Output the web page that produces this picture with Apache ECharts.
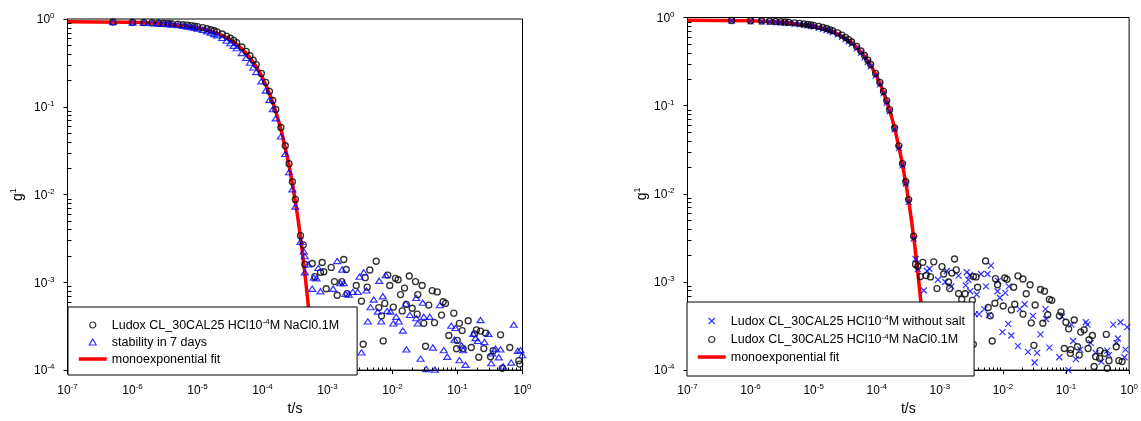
<!DOCTYPE html>
<html><head><meta charset="utf-8">
<script src="https://cdn.jsdelivr.net/npm/echarts@6/dist/echarts.min.js"></script>
<style>html,body{margin:0;padding:0;background:#fff}#c{width:1141px;height:421px}</style>
</head><body><div id="c"></div>
<script>
// ---------- data ----------
const decayTimes = [5e-7,1e-6,1.5e-6,2e-6,2.5e-6,3e-6,3.5e-6,4e-6,5e-6,6e-6,7e-6,8e-6,9e-6,1e-5,1.2e-5,1.4e-5,1.6e-5,1.8e-5,2e-5,2.4e-5,2.8e-5,3.2e-5,3.6e-5,4e-5,4.8e-5,5.6e-5,6.4e-5,7.2e-5,8e-5,9.6e-5,1.12e-4,1.28e-4,1.44e-4,1.6e-4,1.92e-4,2.24e-4,2.56e-4,2.88e-4,3.2e-4,3.84e-4,4.48e-4];
const leftNaClDecay = [0.925,0.918,0.912,0.906,0.900,0.894,0.888,0.883,0.872,0.861,0.850,0.839,0.828,0.818,0.796,0.775,0.754,0.734,0.714,0.675,0.638,0.603,0.570,0.538,0.480,0.428,0.381,0.339,0.302,0.240,0.190,0.150,0.118,0.093,0.058,0.036,0.0225,0.0140,0.0088,0.0034,0.0016];
const leftWeekDecay = [0.920,0.912,0.905,0.897,0.889,0.881,0.873,0.866,0.851,0.836,0.821,0.806,0.792,0.778,0.750,0.724,0.699,0.675,0.652,0.608,0.567,0.530,0.496,0.465,0.409,0.360,0.318,0.281,0.249,0.195,0.153,0.120,0.094,0.074,0.046,0.029,0.018,0.0115,0.0073,0.0029,0.0013];
const rightNaClDecay = [0.925,0.918,0.912,0.906,0.900,0.894,0.888,0.883,0.870,0.858,0.846,0.835,0.824,0.814,0.792,0.771,0.750,0.729,0.709,0.668,0.630,0.594,0.560,0.527,0.469,0.417,0.371,0.329,0.293,0.232,0.183,0.145,0.114,0.090,0.056,0.035,0.022,0.0137,0.0086,0.0033,0.0015];
const rightNoSaltDecay = [0.915,0.905,0.898,0.891,0.884,0.877,0.870,0.864,0.850,0.837,0.824,0.812,0.800,0.789,0.765,0.743,0.722,0.701,0.680,0.640,0.603,0.568,0.535,0.503,0.447,0.397,0.353,0.313,0.279,0.220,0.174,0.138,0.108,0.086,0.054,0.033,0.021,0.0131,0.0081,0.0031,0.0014];

const leftNaClNoise = [[4.23e-4,2.67e-3],[5.82e-4,1.64e-3],[8.28e-4,1.68e-3],[1.78e-3,1.82e-3],[1.14e-3,1.48e-3],[7.8e-4,1.30e-3],[8.77e-4,1.32e-3],[6.38e-4,1.16e-3],[1.94e-3,1.40e-3],[1.28e-3,1.02e-3],[1.66e-3,1.02e-3],[9.55e-4,8.45e-4],[1.41e-3,7.12e-4],[2.77e-3,9.2e-4],[2.01e-3,7.44e-4],[3.33e-3,6.1e-4],[5.61e-3,1.74e-3],[4.48e-3,1.38e-3],[3.80e-3,1.13e-3],[4.08e-3,8.8e-4],[8.47e-3,1.21e-3],[1.11e-2,1.11e-3],[1.22e-2,1.07e-3],[9.08e-3,9.2e-4],[1.53e-2,8.6e-4],[1.33e-2,7.25e-4],[1.81e-2,1.18e-3],[2.26e-2,1.02e-3],[2.86e-2,9.2e-4],[2.45e-2,7.25e-4],[6.15e-3,5.15e-4],[7.6e-3,5.75e-4],[1.03e-2,5.22e-4],[6.78e-3,4.15e-4],[1.63e-2,5.6e-4],[1.41e-2,4.72e-4],[2.01e-2,5.06e-4],[2.40e-2,4.34e-4],[3.61e-2,5.5e-4],[4.08e-2,8.04e-4],[4.88e-2,7.77e-4],[6.03e-2,6.01e-4],[6.54e-2,5.75e-4],[5.68e-2,4.23e-4],[3.03e-2,3.41e-4],[4.43e-2,3.47e-4],[7.19e-3,2.15e-4],[3.54e-3,1.97e-4],[3.22e-2,1.87e-4],[8.77e-2,4.45e-4],[0.107,3.41e-4],[0.118,2.82e-4],[0.146,3.65e-4],[7.35e-2,2.48e-4],[9.9e-2,2.18e-4],[0.122,1.76e-4],[9.66e-2,1.75e-4],[0.163,1.81e-4],[0.196,2.87e-4],[0.226,2.78e-4],[0.183,2.59e-4],[0.270,2.64e-4],[0.254,1.76e-4],[0.213,1.40e-4],[0.459,2.52e-4],[0.354,1.66e-4],[0.322,1.42e-4],[0.638,1.81e-4],[0.488,1.05e-4],[0.877,1.28e-4],[0.908,1.17e-4]];
const leftWeekNoise = [[4.32e-4,2.25e-3],[4.48e-4,1.99e-3],[5.05e-4,1.60e-3],[6.15e-4,1.13e-3],[6.77e-4,1.11e-3],[7.2e-4,1.46e-3],[5.82e-4,8.45e-4],[1.41e-3,1.75e-3],[1.68e-3,1.40e-3],[1.58e-3,9.8e-4],[1.78e-3,9.8e-4],[1.22e-3,8.45e-4],[7.8e-4,7.9e-4],[1.89e-3,7.38e-4],[2.13e-3,7.25e-4],[2.45e-3,7.77e-4],[2.92e-3,7.77e-4],[3.1e-3,1.16e-3],[3.61e-3,1.30e-3],[3.98e-3,8.1e-4],[6.24e-3,1.04e-3],[7.88e-3,1.21e-3],[5.15e-3,6.37e-4],[4.59e-3,5.22e-4],[7.1e-3,6.94e-4],[5.94e-3,4.65e-4],[6.7e-3,3.59e-4],[8.28e-3,4.72e-4],[9.31e-3,4.65e-4],[4.17e-3,3.59e-4],[1.14e-2,4.05e-4],[1.03e-2,3.41e-4],[1.25e-2,3.59e-4],[1.44e-2,2.82e-4],[1.60e-2,5.71e-4],[1.85e-2,4.26e-4],[2.32e-2,3.91e-4],[2.45e-2,3.41e-4],[3.03e-2,4.05e-4],[3.75e-2,4.05e-4],[2.92e-2,5.86e-4],[2.32e-2,6.65e-4],[1.64e-2,1.72e-4],[2.70e-2,1.35e-4],[4.17e-2,1.81e-4],[3.30e-2,1.03e-4],[4.48e-2,1.01e-4],[5.35e-2,5.5e-4],[6.15e-2,1.69e-4],[6.95e-2,1.42e-4],[8.0e-2,3.21e-4],[9.3e-2,3.02e-4],[9.0e-2,2.22e-4],[0.115,1.92e-4],[0.122,1.69e-4],[0.107,1.30e-4],[0.133,1.15e-4],[0.175,2.59e-4],[0.189,2.32e-4],[0.226,3.72e-4],[0.205,2.15e-4],[0.260,2.09e-4],[0.300,2.59e-4],[0.342,1.55e-4],[0.385,1.76e-4],[0.459,1.72e-4],[0.432,1.40e-4],[0.330,1.20e-4],[0.505,1.10e-4],[0.670,1.22e-4],[0.734,3.29e-4],[0.847,1.66e-4],[0.931,1.69e-4],[0.99,1.48e-4],[3.33e-3,1.59e-4]];
const rightNaClNoise = [[4.12e-4,1.58e-3],[5.37e-4,1.67e-3],[8.0e-4,1.69e-3],[4.93e-4,1.15e-3],[6.04e-4,1.18e-3],[7.1e-4,1.14e-3],[1.08e-3,1.49e-3],[1.15e-3,1.23e-3],[1.71e-3,1.82e-3],[1.82e-3,1.37e-3],[1.55e-3,1.26e-3],[1.37e-3,9.98e-4],[9.0e-4,8.41e-4],[1.43e-3,8.41e-4],[1.98e-3,7.4e-4],[3.40e-3,1.15e-3],[3.75e-3,1.14e-3],[5.31e-3,1.73e-3],[3.97e-3,8.7e-4],[2.52e-3,7.34e-4],[2.22e-3,6.34e-4],[1.29e-3,5.34e-4],[5.85e-3,5.13e-4],[6.29e-3,4.13e-4],[7.46e-3,5.73e-4],[1.01e-2,5.34e-4],[7.62e-3,1.09e-3],[8.2e-3,9.3e-4],[1.07e-2,1.11e-3],[1.16e-2,1.07e-3],[1.48e-2,8.7e-4],[1.73e-2,1.17e-3],[2.08e-2,1.08e-3],[2.70e-2,9.3e-4],[2.34e-2,7.34e-4],[3.24e-2,5.48e-4],[3.94e-2,8.2e-4],[4.56e-2,7.85e-4],[1.54e-2,5.58e-4],[1.36e-2,4.82e-4],[2.08e-2,4.32e-4],[2.81e-2,3.43e-4],[4.29e-2,3.40e-4],[5.14e-2,4.24e-4],[5.46e-2,6.34e-4],[5.94e-2,6.18e-4],[8.32e-2,4.58e-4],[7.85e-2,4.13e-4],[9.96e-2,3.49e-4],[0.135,3.70e-4],[0.110,2.94e-4],[0.171,2.70e-4],[0.194,2.86e-4],[0.262,2.47e-4],[0.232,2.21e-4],[0.152,1.84e-4],[9.4e-2,1.76e-4],[0.119,1.71e-4],[0.117,1.55e-4],[0.162,1.48e-4],[0.224,1.76e-4],[0.295,1.42e-4],[0.346,1.66e-4],[0.409,1.55e-4],[0.435,2.54e-4],[0.341,1.36e-4],[0.480,1.28e-4],[0.625,1.84e-4],[0.279,1.10e-4],[0.451,1.05e-4],[0.689,1.28e-4],[0.776,1.25e-4],[3.10e-2,1.91e-4],[6.76e-3,2.14e-4],[3.40e-3,1.96e-4],[3.28e-3,6.18e-4]];
const rightNoSaltNoise = [[4.12e-4,1.82e-3],[6.27e-4,1.33e-3],[6.84e-4,1.41e-3],[9.33e-4,1.06e-3],[1.22e-3,9.98e-4],[1.29e-3,1.33e-3],[1.52e-3,8.9e-4],[1.98e-3,1.18e-3],[2.67e-3,1.29e-3],[3.02e-3,1.20e-3],[2.84e-3,1.06e-3],[2.57e-3,9.15e-4],[3.02e-3,7.85e-4],[3.83e-3,7.21e-4],[5.38e-3,8.9e-4],[4.50e-3,1.23e-3],[5.70e-3,1.23e-3],[6.46e-3,1.53e-3],[8.41e-3,1.03e-3],[8.2e-3,7.85e-4],[1.09e-2,7.53e-4],[1.24e-2,8.9e-4],[8.93e-3,6.62e-4],[3.61e-3,4.32e-4],[4.18e-3,4.32e-4],[5.06e-3,4.91e-4],[6.0e-3,4.21e-4],[1.21e-2,3.34e-4],[9.82e-3,2.70e-4],[1.36e-2,2.47e-4],[2.21e-2,5.58e-4],[1.85e-2,4.91e-4],[2.99e-2,4.13e-4],[1.73e-2,1.87e-4],[2.49e-2,1.61e-4],[3.48e-2,1.57e-4],[3.94e-2,2.54e-4],[3.18e-2,1.22e-4],[4.73e-2,4.91e-4],[4.83e-2,3.80e-4],[5.46e-2,1.80e-4],[7.85e-2,1.40e-4],[8.63e-2,4.03e-4],[0.122,3.28e-4],[0.130,2.14e-4],[0.168,1.71e-4],[0.143,1.33e-4],[0.219,3.28e-4],[0.206,3.49e-4],[0.246,2.04e-4],[0.295,1.57e-4],[0.363,1.25e-4],[0.480,1.48e-4],[0.560,3.28e-4],[0.730,3.49e-4],[0.931,3.07e-4],[0.664,2.28e-4],[0.631,2.04e-4],[0.875,1.71e-4],[0.844,1.40e-4],[0.451,1.66e-4],[0.109,1.0e-4],[5.56e-4,8.0e-4]];

const fitT = [1e-7,3e-7,1e-6,3e-6,1e-5,2e-5,3e-5,4e-5,5e-5,6e-5,7e-5,8e-5,9e-5,1e-4,1.2e-4,1.4e-4,1.6e-4,1.8e-4,2e-4,2.5e-4,3e-4,3.5e-4,4e-4,4.5e-4,5e-4,5.5e-4,6.2e-4];
const fitG = [0.930,0.926,0.916,0.890,0.803,0.693,0.598,0.516,0.446,0.385,0.332,0.287,0.248,0.214,0.159,0.1187,0.0884,0.0659,0.0491,0.0235,0.0113,0.0054,0.0026,0.00124,0.000597,0.000286,0.000102];

const nameNaCl = 'Ludox CL_30CAL25 HCl10-4M NaCl0.1M';
const nameWeek = 'stability in 7 days';
const nameNoSalt = 'Ludox CL_30CAL25 HCl10-4M without salt';
const nameFit = 'monoexponential fit';

// ---------- helpers ----------
const FONT = '"Liberation Sans", Arial, Helvetica, sans-serif';
const pairs = (ts, gs) => ts.map((t, i) => [t, gs[i]]);
const expLabel = v => '{b|10}{s|' + Math.round(Math.log10(v)) + '}';
const labelRich = {
  b: {fontFamily: FONT, fontSize: 12, color: '#000', lineHeight: 14, verticalAlign: 'bottom'},
  s: {fontFamily: FONT, fontSize: 8, color: '#000', lineHeight: 14, verticalAlign: 'top'}
};
const minorX = [], minorY = [];
for (let k = -7; k <= -1; k++) for (let m = 2; m <= 9; m++) minorX.push(m * Math.pow(10, k));
for (let k = -4; k <= -1; k++) for (let m = 2; m <= 9; m++) minorY.push(m * Math.pow(10, k));

function makeX(gi) {
  return {
    type: 'log', logBase: 10, gridIndex: gi, min: 1e-7, max: 1, splitNumber: 7,
    name: 't/s', nameLocation: 'middle', nameGap: 29,
    nameTextStyle: {fontFamily: FONT, fontSize: 14, color: '#000'},
    axisLine: {show: true, lineStyle: {color: '#000', width: 1}},
    axisTick: {show: true, inside: false, length: 4, lineStyle: {color: '#000', width: 1}},
    axisLabel: {formatter: expLabel, margin: 13, rich: labelRich, color: '#000', showMinLabel: true, showMaxLabel: true},
    splitLine: {show: false}, minorTick: {show: false}
  };
}
function makeY(gi, gap) {
  return {
    type: 'log', logBase: 10, gridIndex: gi, min: 1e-4, max: 1, splitNumber: 4,
    name: '{g|g}{s|1}', nameLocation: 'middle', nameGap: gap, nameRotate: 90,
    nameTextStyle: {fontFamily: FONT, fontSize: 14, color: '#000', rich: {
      g: {fontFamily: FONT, fontSize: 14, color: '#000', lineHeight: 16, verticalAlign: 'bottom'},
      s: {fontFamily: FONT, fontSize: 9, color: '#000', lineHeight: 16, verticalAlign: 'top'}}},
    axisLine: {show: true, lineStyle: {color: '#000', width: 1}},
    axisTick: {show: true, inside: false, length: 4, lineStyle: {color: '#000', width: 1}},
    axisLabel: {formatter: expLabel, margin: 13, rich: labelRich, color: '#000', showMinLabel: true, showMaxLabel: true},
    splitLine: {show: false}, minorTick: {show: false}
  };
}
function minorTicks(gi, dim) {
  const vals = dim === 'x' ? minorX : minorY;
  return {
    type: 'custom', coordinateSystem: 'cartesian2d', xAxisIndex: gi, yAxisIndex: gi,
    silent: true, z: 3, clip: false,
    data: vals.map(v => dim === 'x' ? [v, 1e-4] : [1e-7, v]),
    renderItem: function (params, api) {
      const p = api.coord([api.value(0), api.value(1)]);
      const x = Math.round(p[0]) + 0.5, y = Math.round(p[1]) + 0.5;
      const shape = dim === 'x' ? {x1: x, y1: y, x2: x, y2: y - 3} : {x1: x - 0.5, y1: y, x2: x + 3, y2: y};
      return {type: 'line', shape: shape, style: {stroke: '#000', lineWidth: 1}};
    }
  };
}
const hollow = (c, w) => ({color: 'rgba(0,0,0,0)', borderColor: c, borderWidth: w});
const TRI = 'path://M5,0L10,8.66L0,8.66Z';
const CROSS = 'path://M0,0L10,10M0,10L10,0';

function circles(name, gi, data) {
  return {type: 'scatter', name: name, xAxisIndex: gi, yAxisIndex: gi, symbol: 'circle', symbolSize: 6,
    itemStyle: hollow('#000', 1.35), data: data, z: 2, silent: true};
}
function fitLine(gi) {
  return {type: 'line', name: nameFit, xAxisIndex: gi, yAxisIndex: gi, data: pairs(fitT, fitG),
    symbol: 'none', showSymbol: false, lineStyle: {color: '#ff0000', width: 3.5}, itemStyle: {color: '#ff0000'},
    z: 2, silent: true};
}
const legendRich = {
  t: {fontFamily: FONT, fontSize: 12.5, color: '#000', lineHeight: 14, verticalAlign: 'bottom'},
  s: {fontFamily: FONT, fontSize: 8, color: '#000', lineHeight: 14, verticalAlign: 'top'}
};
const legendFmt = n => '{t|' + n.replace('10-4M', '10}{s|-4}{t|M') + '}';
function legend(names, left, top, padding, gap) {
  return {
    data: names.map(n => n === nameFit
      ? {name: n, itemStyle: {opacity: 0}, lineStyle: {width: 3.5, color: '#ff0000'}}
      : {name: n}),
    left: left, top: top, orient: 'vertical', selectedMode: false,
    itemWidth: 28, itemHeight: 6, itemGap: gap, padding: padding,
    itemStyle: {borderWidth: 1.2}, lineStyle: {width: 3.5},
    backgroundColor: '#fff', borderColor: '#000', borderWidth: 1, borderRadius: 0,
    formatter: legendFmt, textStyle: {fontFamily: FONT, fontSize: 12.5, color: '#000', rich: legendRich},
    z: 10
  };
}

const chart = echarts.init(document.getElementById('c'), null, {renderer: 'canvas'});
chart.setOption({
  animation: false,
  backgroundColor: '#fff',
  grid: [
    {left: 67.5, top: 19, width: 455, height: 359, show: true, borderColor: '#000', borderWidth: 1, backgroundColor: 'rgba(0,0,0,0)'},
    {left: 687.5, top: 17.5, width: 442.5, height: 360, show: true, borderColor: '#000', borderWidth: 1, backgroundColor: 'rgba(0,0,0,0)'}
  ],
  xAxis: [makeX(0), makeX(1)],
  yAxis: [makeY(0, 42), makeY(1, 38)],
  legend: [
    legend([nameNaCl, nameWeek, nameFit], 68, 307, [11, 18, 9, 9], 4),
    legend([nameNoSalt, nameNaCl, nameFit], 687, 302, [12, 9, 12, 9], 4.5)
  ],
  series: [
    minorTicks(0, 'x'), minorTicks(0, 'y'), minorTicks(1, 'x'), minorTicks(1, 'y'),
    circles(nameNaCl, 0, pairs(decayTimes, leftNaClDecay).concat(leftNaClNoise)),
    {type: 'scatter', name: nameWeek, xAxisIndex: 0, yAxisIndex: 0, symbol: TRI, symbolKeepAspect: true, symbolSize: [7, 6],
      itemStyle: hollow('#0000ff', 1.2), data: pairs(decayTimes, leftWeekDecay).concat(leftWeekNoise), z: 2, silent: true},
    fitLine(0),
    {type: 'scatter', name: nameNoSalt, xAxisIndex: 1, yAxisIndex: 1, symbol: CROSS, symbolKeepAspect: true, symbolSize: 6,
      itemStyle: {color: 'rgba(0,0,0,0)', borderColor: '#0000ff', borderWidth: 1.2}, data: pairs(decayTimes, rightNoSaltDecay).concat(rightNoSaltNoise), z: 2, silent: true},
    circles(nameNaCl, 1, pairs(decayTimes, rightNaClDecay).concat(rightNaClNoise)),
    fitLine(1)
  ]
});
</script>
</body></html>
